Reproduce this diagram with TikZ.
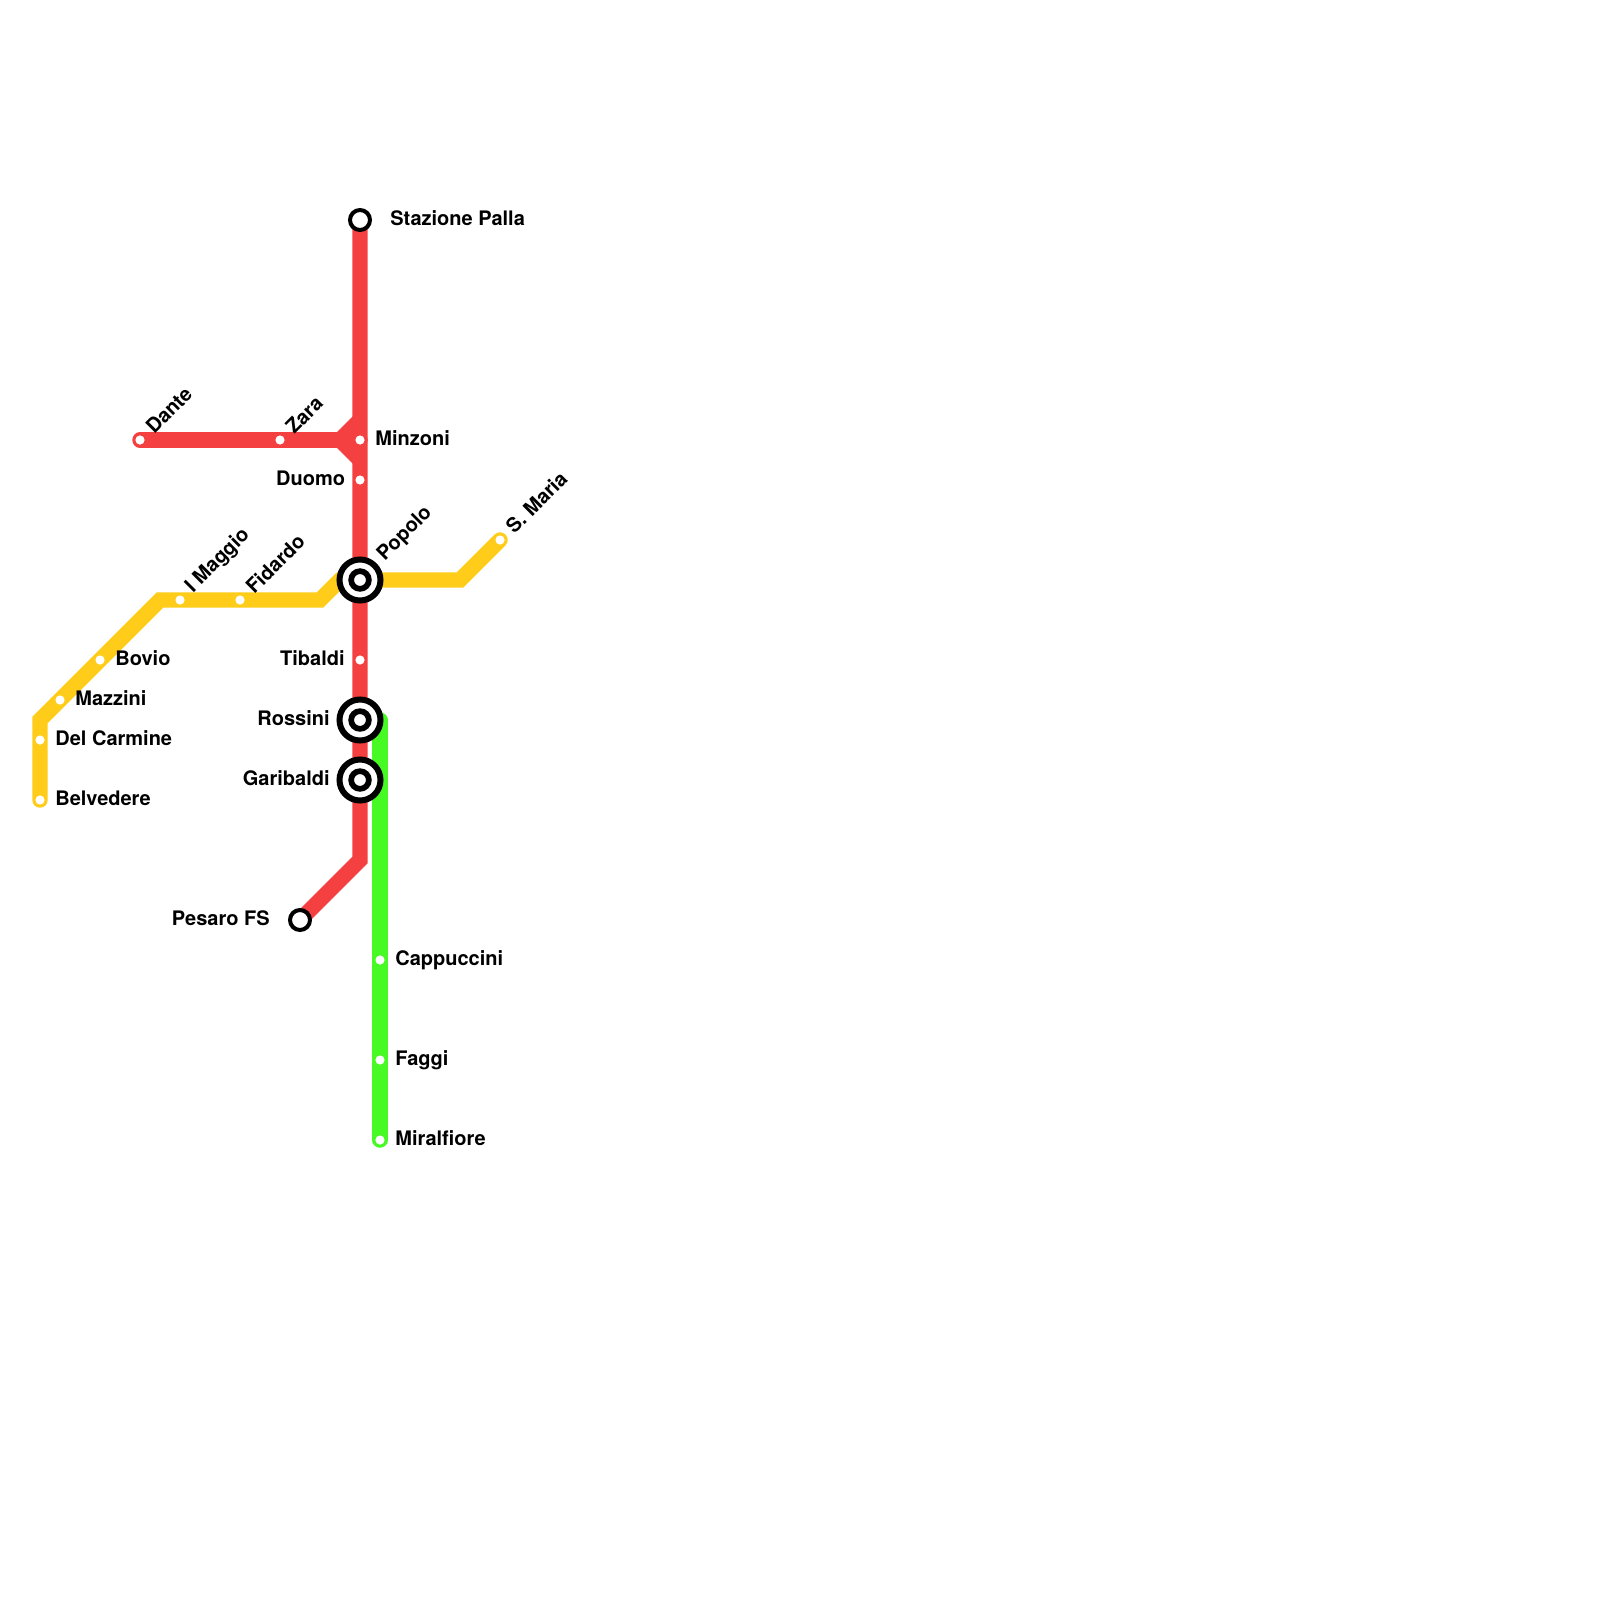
\documentclass[tikz,border=0pt]{standalone}
\usepackage{fontspec}
\setmainfont{TeX Gyre Heros}
\definecolor{redline}{RGB}{244,64,64}
\definecolor{yellowline}{RGB}{255,204,26}
\definecolor{greenline}{RGB}{72,250,35}
\tikzset{
  metro/.style={line width=7.7pt,line cap=round,line join=miter,miter limit=10},
  stopdot/.style={circle,fill=white,draw=none,minimum size=4.6pt,inner sep=0pt},
  endstop/.style={circle,fill=white,draw=black,line width=2pt,minimum size=10pt,inner sep=0pt},
  hubouter/.style={circle,fill=white,draw=black,line width=3pt,minimum size=20.5pt,inner sep=0pt},
  hubinner/.style={circle,fill=white,draw=black,line width=2.85pt,minimum size=8.85pt,inner sep=0pt},
  lab/.style={font=\bfseries\fontsize{10}{12}\selectfont,inner sep=0pt,text=black},
  labr/.style={lab,anchor=west},
  labl/.style={lab,anchor=east},
  labd/.style={lab,anchor=west,rotate=45}
}
\begin{document}
\begin{tikzpicture}[x=0.5pt,y=-0.5pt]
\useasboundingbox (0,0) rectangle (1600,1600);
\fill[white] (0,0) rectangle (1600,1600);
% station positions
\coordinate (belvedere) at (40,800);
\coordinate (delcarmine) at (40,740);
\coordinate (y1) at (40,720);
\coordinate (mazzini) at (60,700);
\coordinate (bovio) at (100,660);
\coordinate (y2) at (160,600);
\coordinate (imaggio) at (180,600);
\coordinate (fidardo) at (240,600);
\coordinate (y3) at (320,600);
\coordinate (popolo) at (360,580);
\coordinate (y3b) at (340,580);
\coordinate (y4) at (460,580);
\coordinate (smaria) at (500,540);
\coordinate (palla) at (360,220);
\coordinate (minzoni) at (360,440);
\coordinate (duomo) at (360,480);
\coordinate (tibaldi) at (360,660);
\coordinate (rossini) at (360,720);
\coordinate (garibaldi) at (360,780);
\coordinate (r1) at (360,860);
\coordinate (pesaro) at (300,920);
\coordinate (dante) at (140,440);
\coordinate (zara) at (280,440);
\coordinate (fork) at (340,440);
\coordinate (fork1) at (360,420);
\coordinate (fork2) at (360,460);
\coordinate (gtop) at (380,720);
\coordinate (cappuccini) at (380,960);
\coordinate (faggi) at (380,1060);
\coordinate (miralfiore) at (380,1140);
% lines
\draw[metro,greenline] (gtop) -- (cappuccini) -- (faggi) -- (miralfiore);
\draw[metro,yellowline] (belvedere) -- (delcarmine) -- (y1) -- (mazzini) -- (bovio) -- (y2) -- (imaggio) -- (fidardo) -- (y3) -- (y3b) -- (popolo) -- (y4) -- (smaria);
\draw[metro,redline] (dante) -- (zara) -- (fork) -- (minzoni);
\draw[metro,redline,line cap=butt] (fork1) -- (fork) -- (fork2);
\draw[metro,redline] (palla) -- (minzoni) -- (duomo) -- (popolo) -- (tibaldi) -- (rossini) -- (garibaldi) -- (r1) -- (pesaro);
% stops
\foreach \s in {belvedere,delcarmine,mazzini,bovio,imaggio,fidardo,smaria,minzoni,duomo,tibaldi,dante,zara,cappuccini,faggi,miralfiore}
  \node[stopdot] (dot\s) at (\s) {};
\node[endstop] (endpalla) at (palla) {};
\node[endstop] (endpesaro) at (pesaro) {};
\foreach \s in {popolo,rossini,garibaldi}{
  \node[hubouter] (hubo\s) at (\s) {};
  \node[hubinner] (hubi\s) at (\s) {};
}
% labels
\node[labr] (tpalla) at (390,218) {Stazione Palla};
\node[labr] (tminzoni) at (375,438) {Minzoni};
\node[labl] (tduomo) at (345.5,478) {Duomo};
\node[labl] (ttibaldi) at (345,658) {Tibaldi};
\node[labl] (trossini) at (330,718) {Rossini};
\node[labl] (tgaribaldi) at (330,778) {Garibaldi};
\node[labl] (tpesaro) at (270,918) {Pesaro FS};
\node[labr] (tcapp) at (395,960) {Cappuccini};
\node[labr] (tfaggi) at (395,1060) {Faggi};
\node[labr] (tmiral) at (395,1138) {Miralfiore};
\node[labr] (tbelv) at (55,798) {Belvedere};
\node[labr] (tdelc) at (55,738) {Del Carmine};
\node[labr] (tmazz) at (75,698) {Mazzini};
\node[labr] (tbov) at (115,658) {Bovio};
\node[labd] (tdante) at (149,430) {Dante};
\node[labd] (tzara) at (289,430) {Zara};
\node[labd] (timag) at (189,590) {I Maggio};
\node[labd] (tfid) at (249,590) {Fidardo};
\node[labd] (tpop) at (381,558) {Popolo};
\node[labd] (tsm) at (509,530) {S. Maria};
\end{tikzpicture}
\end{document}
